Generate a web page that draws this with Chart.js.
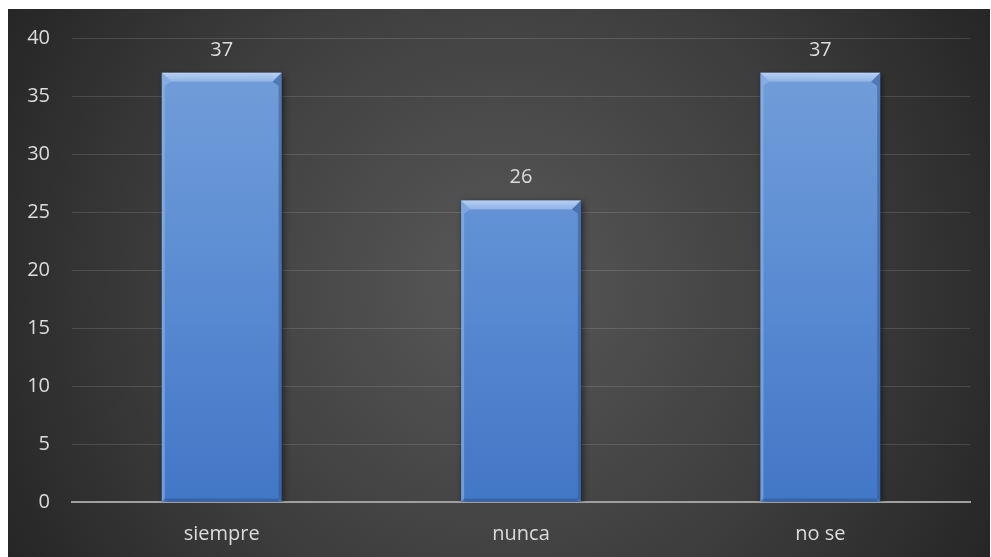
<!DOCTYPE html>
<html>
<head>
<meta charset="utf-8">
<script src="https://cdn.jsdelivr.net/npm/chart.js@4.4.1/dist/chart.umd.min.js"></script>
<style>
  html, body { margin: 0; padding: 0; background: #ffffff; }
  #wrap { width: 991px; height: 557px; position: relative; }
</style>
</head>
<body>
<div id="wrap"><canvas id="c" width="991" height="557"></canvas></div>
<script>
// Survey answers and counts
const categories = ['siempre', 'nunca', 'no se'];
const counts = [37, 26, 37];
const yTicks = [0, 5, 10, 15, 20, 25, 30, 35, 40];

const TEXT = '#dcdcdc';
const FONT = '"Open Sans", "Liberation Sans", sans-serif';
const FONT_SIZE = 20;

// Dark panel with a soft radial glow behind the plot
const panelBackground = {
  id: 'panelBackground',
  beforeDraw(chart) {
    const ctx = chart.ctx;
    const x0 = 8, y0 = 9, x1 = chart.width - 1, y1 = chart.height;
    const cx = (x0 + x1) / 2, cy = (y0 + y1) / 2;
    const g = ctx.createRadialGradient(cx, cy, 0, cx, cy, 580);
    g.addColorStop(0, '#585858');
    g.addColorStop(0.55, '#3e3e3e');
    g.addColorStop(1, '#242424');
    ctx.save();
    ctx.fillStyle = g;
    ctx.fillRect(x0, y0, x1 - x0, y1 - y0);
    ctx.restore();
  }
};

// Drop shadow under the bars
const barShadow = {
  id: 'barShadow',
  beforeDatasetDraw(chart) {
    const ctx = chart.ctx;
    ctx.save();
    ctx.shadowColor = 'rgba(0,0,0,0.55)';
    ctx.shadowBlur = 7;
    ctx.shadowOffsetX = 2;
    ctx.shadowOffsetY = 2;
  },
  afterDatasetDraw(chart) {
    chart.ctx.restore();
  }
};

// Bevelled edges on each bar plus value labels
const bevelAndLabels = {
  id: 'bevelAndLabels',
  afterDatasetsDraw(chart) {
    const ctx = chart.ctx;
    const meta = chart.getDatasetMeta(0);
    meta.data.forEach((bar, i) => {
      const p = bar.getProps(['x', 'y', 'base', 'width'], true);
      const l = p.x - p.width / 2, r = p.x + p.width / 2;
      const t = p.y, b = p.base;
      const bv = 9, sv = 3;
      ctx.save();
      // top facet
      let g = ctx.createLinearGradient(0, t, 0, t + bv);
      g.addColorStop(0, '#b8d0f2');
      g.addColorStop(1, '#8fb2e6');
      ctx.fillStyle = g;
      ctx.beginPath();
      ctx.moveTo(l, t); ctx.lineTo(r, t);
      ctx.lineTo(r - bv, t + bv); ctx.lineTo(l + bv, t + bv);
      ctx.closePath(); ctx.fill();
      // left facet
      ctx.fillStyle = 'rgba(150,185,235,0.55)';
      ctx.beginPath();
      ctx.moveTo(l, t); ctx.lineTo(l + bv, t + bv);
      ctx.lineTo(l + sv, t + bv + 4); ctx.lineTo(l + sv, b - sv);
      ctx.lineTo(l, b); ctx.closePath(); ctx.fill();
      // right facet
      ctx.fillStyle = 'rgba(40,80,140,0.45)';
      ctx.beginPath();
      ctx.moveTo(r, t); ctx.lineTo(r - bv, t + bv);
      ctx.lineTo(r - sv, t + bv + 4); ctx.lineTo(r - sv, b - sv);
      ctx.lineTo(r, b); ctx.closePath(); ctx.fill();
      // bottom facet
      ctx.fillStyle = 'rgba(40,80,150,0.5)';
      ctx.fillRect(l + sv, b - sv, r - l - 2 * sv, sv);
      // value label
      ctx.fillStyle = TEXT;
      ctx.font = FONT_SIZE + 'px ' + FONT;
      ctx.textAlign = 'center';
      ctx.textBaseline = 'bottom';
      ctx.fillText(String(counts[i]), p.x, t - 13);
      ctx.restore();
    });
  }
};

const ctx = document.getElementById('c').getContext('2d');
new Chart(ctx, {
  type: 'bar',
  data: {
    labels: categories,
    datasets: [{
      data: counts,
      backgroundColor(c) {
        const area = c.chart.chartArea;
        if (!area) return '#5b8bd3';
        const g = c.chart.ctx.createLinearGradient(0, area.top + 30, 0, area.bottom);
        g.addColorStop(0, '#729dd9');
        g.addColorStop(0.5, '#5a8bd2');
        g.addColorStop(1, '#4277c7');
        return g;
      },
      borderWidth: 0,
      categoryPercentage: 1,
      barPercentage: 0.4
    }]
  },
  options: {
    responsive: false,
    animation: false,
    events: [],
    layout: { padding: { left: 8, top: 38, right: 21, bottom: 0 } },
    plugins: { legend: { display: false }, tooltip: { enabled: false } },
    scales: {
      x: {
        grid: { display: false, drawTicks: false },
        border: { display: true, color: '#a0a0a0', width: 2 },
        ticks: { color: TEXT, font: { family: FONT, size: FONT_SIZE }, padding: 20 },
        afterFit(s) { s.height = 55; }
      },
      y: {
        min: 0, max: 40,
        afterBuildTicks(s) { s.ticks = yTicks.map(v => ({ value: v })); },
        grid: { color: 'rgba(255,255,255,0.13)', lineWidth: 1, drawTicks: false },
        border: { display: false },
        ticks: { color: TEXT, font: { family: FONT, size: FONT_SIZE }, padding: 22 },
        afterFit(s) { s.width = 64; }
      }
    }
  },
  plugins: [panelBackground, barShadow, bevelAndLabels]
});
</script>
</body>
</html>
